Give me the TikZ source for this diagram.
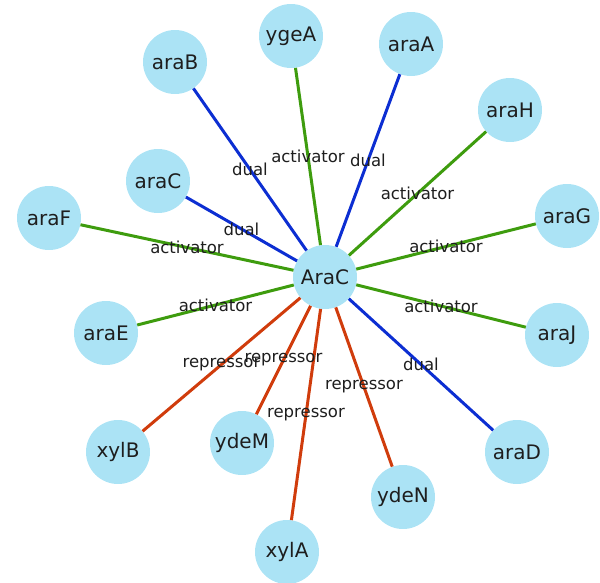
\documentclass[tikz,border=0pt]{standalone}
\usepackage{fontspec}
\setmainfont{DejaVu Sans}
\usepackage{xcolor}
\usepackage{tikz}
\usetikzlibrary{arrows.meta}
\definecolor{genecyan}{HTML}{ABE3F5}
\definecolor{dualblue}{HTML}{0C2ED2}
\definecolor{actgreen}{HTML}{3E9C0E}
\definecolor{repred}{HTML}{D03C0C}
\definecolor{textdark}{HTML}{1E1E1E}

\begin{document}
\begin{tikzpicture}[
  x=1pt, y=-1pt,
  gene/.style={circle, fill=genecyan, draw=none, minimum size=64pt, inner sep=0pt,
               font=\fontsize{20}{24}\selectfont, text=textdark},
  dual/.style={line width=3pt, dualblue},
  act/.style={line width=3pt, actgreen},
  rep/.style={line width=3pt, repred},
  lbl/.style={font=\fontsize{16.5}{20}\selectfont, text=textdark, inner sep=0pt},
]
  \useasboundingbox (0,0) rectangle (600,582);
  % Hub
  \node[gene] (hub) at (325,277) {AraC};
  % Targets
  \node[gene] (araB) at (175,62) {araB};
  \node[gene] (ygeA) at (291,36) {ygeA};
  \node[gene] (araA) at (411,44) {araA};
  \node[gene] (araH) at (510,110) {araH};
  \node[gene] (araG) at (567,216) {araG};
  \node[gene] (araJ) at (557,335) {araJ};
  \node[gene] (araD) at (517,452) {araD};
  \node[gene] (ydeN) at (403,497) {ydeN};
  \node[gene] (xylA) at (287,552) {xylA};
  \node[gene] (ydeM) at (242,443) {ydeM};
  \node[gene] (xylB) at (118,452) {xylB};
  \node[gene] (araE) at (106,333) {araE};
  \node[gene] (araF) at (49,218) {araF};
  \node[gene] (araC) at (158,181) {araC};

  % Interactions
  \draw[dual] (hub) -- node[lbl]{dual} (araB);
  \draw[act] (hub) -- node[lbl]{activator} (ygeA);
  \draw[dual] (hub) -- node[lbl]{dual} (araA);
  \draw[act] (hub) -- node[lbl]{activator} (araH);
  \draw[act] (hub) -- node[lbl]{activator} (araG);
  \draw[act] (hub) -- node[lbl]{activator} (araJ);
  \draw[dual] (hub) -- node[lbl]{dual} (araD);
  \draw[rep] (hub) -- node[lbl]{repressor} (ydeN);
  \draw[rep] (hub) -- node[lbl]{repressor} (xylA);
  \draw[rep] (hub) -- node[lbl]{repressor} (ydeM);
  \draw[rep] (hub) -- node[lbl]{repressor} (xylB);
  \draw[act] (hub) -- node[lbl]{activator} (araE);
  \draw[act] (hub) -- node[lbl]{activator} (araF);
  \draw[dual] (hub) -- node[lbl]{dual} (araC);
\end{tikzpicture}
\end{document}
